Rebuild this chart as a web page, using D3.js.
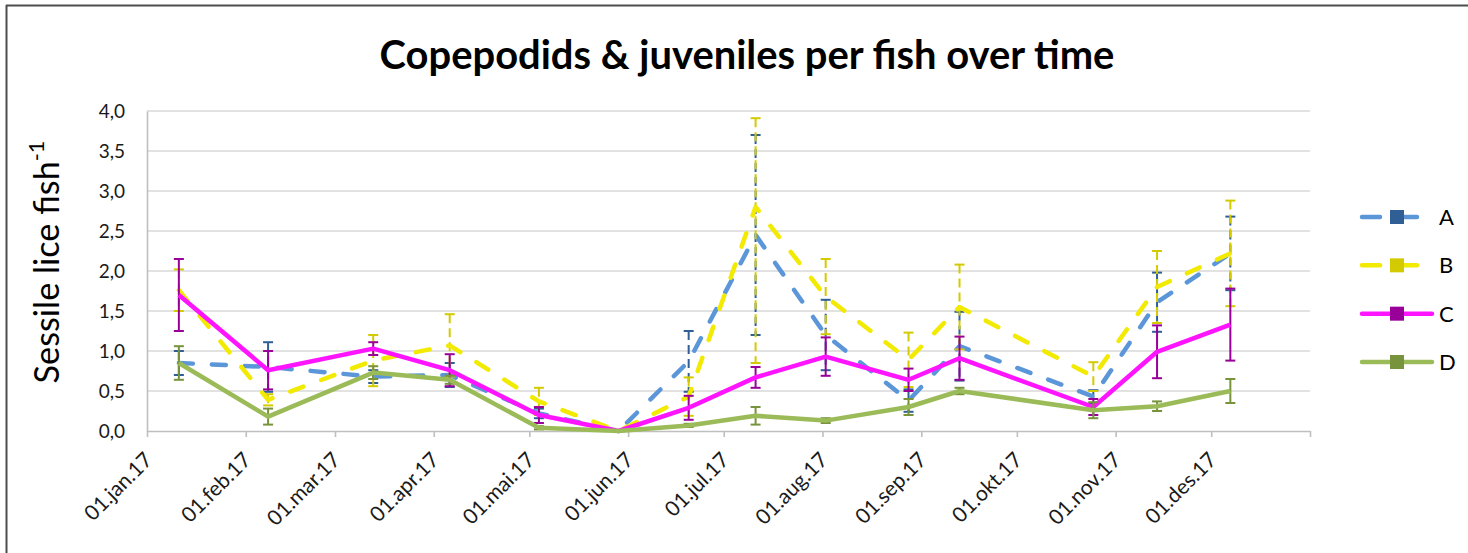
<!DOCTYPE html>
<html>
<head>
<meta charset="utf-8">
<script src="https://cdn.jsdelivr.net/npm/d3@7"></script>
<style>
  html, body { margin: 0; padding: 0; background: #fff; }
  svg { display: block; }
</style>
</head>
<body>
<svg id="chart" width="1468" height="553"></svg>
<script>
// ---------------- data ----------------
const sampleDates = ["2017-01-11","2017-02-08","2017-03-13","2017-04-06","2017-05-04","2017-05-29","2017-06-20",
                     "2017-07-11","2017-08-02","2017-08-28","2017-09-13","2017-10-25","2017-11-14","2017-12-07"];
const seriesNames = ["A", "B", "C", "D"];

const valuesA = [0.85, 0.80, 0.68, 0.70, 0.22, 0.00, 0.87, 2.45, 1.20, 0.38, 1.06, 0.43, 1.61, 2.22];
const errA    = [0.15, 0.31, 0.08, 0.15, 0.06, 0.00, 0.38, 1.25, 0.44, 0.14, 0.43, 0.08, 0.37, 0.46];

const valuesB  = [1.76, 0.39, 0.88, 1.07, 0.37, 0.00, 0.43, 2.80, 1.68, 0.89, 1.55, 0.68, 1.80, 2.22];
const errBUp   = [0.26, 0.07, 0.32, 0.39, 0.17, 0.00, 0.24, 1.11, 0.47, 0.34, 0.53, 0.18, 0.45, 0.66];
const errBDown = [0.26, 0.07, 0.32, 0.39, 0.17, 0.00, 0.24, 1.95, 0.47, 0.34, 0.53, 0.18, 0.45, 0.66];

const valuesC = [1.70, 0.76, 1.03, 0.76, 0.20, 0.00, 0.29, 0.67, 0.93, 0.64, 0.91, 0.30, 0.99, 1.33];
const errC    = [0.45, 0.24, 0.08, 0.20, 0.10, 0.00, 0.15, 0.13, 0.24, 0.14, 0.27, 0.10, 0.33, 0.45];

const valuesD = [0.85, 0.18, 0.73, 0.64, 0.04, 0.00, 0.07, 0.19, 0.13, 0.30, 0.50, 0.26, 0.31, 0.50];
const errD    = [0.21, 0.10, 0.08, 0.05, 0.02, 0.00, 0.02, 0.11, 0.03, 0.10, 0.04, 0.10, 0.06, 0.15];

const monthTickDates = ["2017-01-01","2017-02-01","2017-03-01","2017-04-01","2017-05-01","2017-06-01",
                        "2017-07-01","2017-08-01","2017-09-01","2017-10-01","2017-11-01","2017-12-01","2018-01-01"];
const monthTickLabels = ["01.jan.17","01.feb.17","01.mar.17","01.apr.17","01.mai.17","01.jun.17",
                         "01.jul.17","01.aug.17","01.sep.17","01.okt.17","01.nov.17","01.des.17",""];
const yTickValues = [0, 0.5, 1, 1.5, 2, 2.5, 3, 3.5, 4];

const titleText = "Copepodids & juveniles per fish over time";
const yTitleText = "Sessile lice fish";
const yTitleSup = "-1";

// ---------------- styles ----------------
const styles = {
  A: { line: "#5B96D9", mark: "#2F5F95", dash: "14,19", errDash: "9,5" },
  B: { line: "#F2EA00", mark: "#D3CB00", dash: "14,19", errDash: "9,5" },
  C: { line: "#FF14FF", mark: "#990099", dash: null, errDash: null },
  D: { line: "#9BBB59", mark: "#77933C", dash: null, errDash: null }
};

const parse = d3.utcParse("%Y-%m-%d");
const dates = sampleDates.map(parse);

const series = [
  { name: "A", vals: valuesA, up: errA, down: errA },
  { name: "B", vals: valuesB, up: errBUp, down: errBDown },
  { name: "C", vals: valuesC, up: errC, down: errC },
  { name: "D", vals: valuesD, up: errD, down: errD }
].map(s => ({ ...s, pts: s.vals.map((v, i) => ({ date: dates[i], v, up: v + s.up[i], down: Math.max(0, v - s.down[i]) })) }));

// ---------------- layout ----------------
const svg = d3.select("#chart");
const W = 1468, H = 553;
const plot = { left: 147, right: 1310, top: 111, bottom: 431 };
const FONT = "Lato, 'Open Sans', 'DejaVu Sans', sans-serif";

// frame
svg.append("line").attr("x1", 6).attr("x2", W).attr("y1", 5.5).attr("y2", 5.5)
  .attr("stroke", "#4d4d4d").attr("stroke-width", 2);
svg.append("line").attr("x1", 6.5).attr("x2", 6.5).attr("y1", 5).attr("y2", H)
  .attr("stroke", "#4d4d4d").attr("stroke-width", 2);

const x = d3.scaleUtc()
  .domain([parse(monthTickDates[0]), parse(monthTickDates[monthTickDates.length - 1])])
  .range([plot.left, plot.right]);
const y = d3.scaleLinear().domain([0, 4]).range([plot.bottom, plot.top]);

const commaFmt = d3.formatLocale({ decimal: ",", thousands: " ", grouping: [3], currency: ["", ""] }).format(".1f");

// gridlines
svg.append("g").selectAll("line").data(yTickValues.filter(v => v > 0)).join("line")
  .attr("x1", plot.left).attr("x2", plot.right)
  .attr("y1", d => y(d)).attr("y2", d => y(d))
  .attr("stroke", "#D9D9D9").attr("stroke-width", 1.6);

// y axis
const yAxis = svg.append("g").attr("transform", `translate(${plot.left},0)`)
  .call(d3.axisLeft(y).tickValues(yTickValues).tickSize(0).tickPadding(22).tickFormat(commaFmt));
yAxis.select(".domain").attr("stroke", "#BFBFBF").attr("stroke-width", 1.6);
yAxis.selectAll("text").attr("font-family", FONT).attr("font-size", 19).attr("fill", "#1a1a1a");

// x axis
const tickDates = monthTickDates.map(parse);
const xAxis = svg.append("g").attr("transform", `translate(0,${plot.bottom})`)
  .call(d3.axisBottom(x).tickValues(tickDates).tickSize(6).tickSizeOuter(0)
    .tickFormat((d, i) => monthTickLabels[i]));
xAxis.select(".domain").attr("stroke", "#BFBFBF").attr("stroke-width", 1.6);
xAxis.selectAll(".tick line").attr("stroke", "#BFBFBF").attr("stroke-width", 1.6);
xAxis.selectAll(".tick text")
  .attr("font-family", FONT).attr("font-size", 21).attr("fill", "#1a1a1a")
  .attr("text-anchor", "end")
  .attr("y", 0).attr("dy", "0.35em")
  .attr("transform", "translate(1,25) rotate(-45)");

// ---------------- series ----------------
const line = d3.line().x(d => x(d.date)).y(d => y(d.v));
const capW = 5;

series.forEach(s => {
  const st = styles[s.name];
  const g = svg.append("g").attr("class", "series-" + s.name);
  // error bars
  const eb = g.append("g").selectAll("g").data(s.pts.filter(p => p.up > p.down)).join("g");
  eb.append("line")
    .attr("x1", d => x(d.date)).attr("x2", d => x(d.date))
    .attr("y1", d => y(d.up)).attr("y2", d => y(d.down))
    .attr("stroke", st.mark).attr("stroke-width", 2)
    .attr("stroke-dasharray", st.errDash);
  eb.append("line")
    .attr("x1", d => x(d.date) - capW).attr("x2", d => x(d.date) + capW)
    .attr("y1", d => y(d.up)).attr("y2", d => y(d.up))
    .attr("stroke", st.mark).attr("stroke-width", 2);
  eb.append("line")
    .attr("x1", d => x(d.date) - capW).attr("x2", d => x(d.date) + capW)
    .attr("y1", d => y(d.down)).attr("y2", d => y(d.down))
    .attr("stroke", st.mark).attr("stroke-width", 2);
  // line
  g.append("path").datum(s.pts)
    .attr("d", line)
    .attr("fill", "none")
    .attr("stroke", st.line)
    .attr("stroke-width", 4.5)
    .attr("stroke-linejoin", "round")
    .attr("stroke-linecap", st.dash ? "round" : "butt")
    .attr("stroke-dasharray", st.dash);
});

// ---------------- legend ----------------
const legend = svg.append("g");
const legY = d3.scalePoint().domain(seriesNames).range([217, 362]);
seriesNames.forEach(n => {
  const st = styles[n];
  const gy = legY(n);
  const lg = legend.append("g");
  if (st.dash) {
    lg.append("line").attr("x1", 1362).attr("x2", 1380).attr("y1", gy).attr("y2", gy)
      .attr("stroke", st.line).attr("stroke-width", 4.5).attr("stroke-linecap", "round");
    lg.append("line").attr("x1", 1404).attr("x2", 1417).attr("y1", gy).attr("y2", gy)
      .attr("stroke", st.line).attr("stroke-width", 4.5).attr("stroke-linecap", "round");
  } else {
    lg.append("line").attr("x1", 1362).attr("x2", 1432).attr("y1", gy).attr("y2", gy)
      .attr("stroke", st.line).attr("stroke-width", 4.5).attr("stroke-linecap", "round");
  }
  lg.append("rect").attr("x", 1390).attr("y", gy - 7).attr("width", 14).attr("height", 14)
    .attr("fill", st.mark);
  lg.append("text").attr("x", 1439).attr("y", gy).attr("dy", "0.36em")
    .attr("font-family", FONT).attr("font-size", 22).attr("fill", "#000").text(n);
});

// ---------------- titles ----------------
const title = svg.append("text")
  .attr("x", 747).attr("y", 69)
  .attr("text-anchor", "middle")
  .attr("font-family", FONT).attr("font-weight", "bold").attr("font-size", 34)
  .attr("fill", "#000").text(titleText);
// fit title width to reference (~735px)
const tw = title.node().getComputedTextLength();
title.attr("font-size", 34 * 735 / tw);

const yt = svg.append("text")
  .attr("transform", "translate(59,262) rotate(-90)")
  .attr("text-anchor", "middle")
  .attr("font-family", FONT).attr("font-size", 30).attr("fill", "#000");
yt.append("tspan").text(yTitleText);
yt.append("tspan").attr("font-size", 19).attr("dy", -13).text(yTitleSup);
// fit y-title length to reference (~243px)
const yl = yt.node().getComputedTextLength();
const yScaleF = 243 / yl;
yt.attr("font-size", 30 * yScaleF);
yt.select("tspan:last-child").attr("font-size", 19 * yScaleF).attr("dy", -13 * yScaleF);
</script>
</body>
</html>
